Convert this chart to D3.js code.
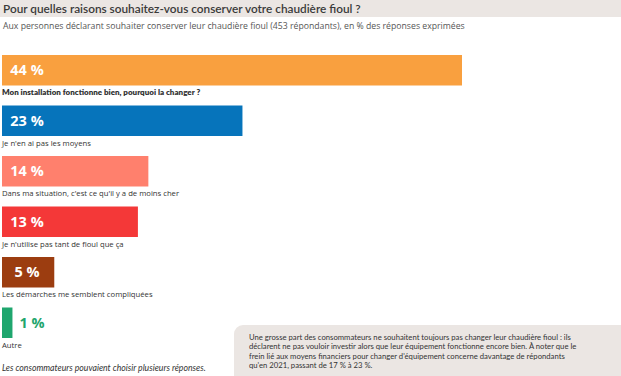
<!DOCTYPE html>
<html>
<head>
<meta charset="utf-8">
<script src="https://cdn.jsdelivr.net/npm/d3@7"></script>
<style>
  body { margin: 0; background: #fff; }
  svg { display: block; font-family: Lato, "Open Sans", sans-serif; }
</style>
</head>
<body>
<div id="chart"></div>
<script>
// data
const categories = [
  "Mon installation fonctionne bien, pourquoi la changer ?",
  "Je n'en ai pas les moyens",
  "Dans ma situation, c'est ce qu'il y a de moins cher",
  "Je n'utilise pas tant de fioul que ça",
  "Les démarches me semblent compliquées",
  "Autre"
];
const values = [44, 23, 14, 13, 5, 1];
const colors = ["#f9a03f", "#0674bb", "#ff806d", "#f43838", "#9c3d10", "#1fa66e"];

const title = "Pour quelles raisons souhaitez-vous conserver votre chaudière fioul ?";
const subtitle = "Aux personnes déclarant souhaiter conserver leur chaudière fioul (453 répondants), en % des réponses exprimées";
const footnote = "Les consommateurs pouvaient choisir plusieurs réponses.";
const noteLines = [
  "Une grosse part des consommateurs ne souhaitent toujours pas changer leur chaudière fioul : ils",
  "déclarent ne pas vouloir investir alors que leur équipement fonctionne encore bien. À noter que le",
  "frein lié aux moyens financiers pour changer d'équipement concerne davantage de répondants",
  "qu'en 2021, passant de 17 % à 23 %."
];

const width = 621, height = 376;

const svg = d3.select("#chart")
  .append("svg")
    .attr("width", width)
    .attr("height", height);

// header band
svg.append("rect")
  .attr("x", 0).attr("y", 0)
  .attr("width", width).attr("height", 17)
  .attr("fill", "#ebe6e3");

svg.append("text")
  .attr("x", 3).attr("y", 12.5)
  .attr("font-size", 11.8)
  .attr("font-weight", 600)
  .attr("fill", "#3a3a3a")
  .text(title);

svg.append("text")
  .attr("x", 3).attr("y", 29)
  .attr("font-family", "'Open Sans', sans-serif")
  .attr("font-size", 8.7)
  .attr("fill", "#555")
  .text(subtitle);

const xScale = d3.scaleLinear().domain([0, 44]).range([2, 462]);
const yScale = d3.scaleBand()
  .domain(categories)
  .range([55, 338])
  .paddingInner(20 / 50.5)
  .paddingOuter(0);

const rows = svg.selectAll("g.row")
  .data(categories.map((c, i) => ({cat: c, value: values[i], color: colors[i], i: i})))
  .enter()
  .append("g")
  .attr("class", "row");

rows.append("rect")
  .attr("x", xScale(0))
  .attr("y", d => yScale(d.cat))
  .attr("width", d => xScale(d.value) - xScale(0))
  .attr("height", yScale.bandwidth())
  .attr("fill", d => d.color);

// value labels: centred near the bar start, or after the bar when it is too small
rows.append("text")
  .attr("x", d => d.value > 3 ? 27 : xScale(d.value) + 7)
  .attr("y", d => yScale(d.cat) + yScale.bandwidth() / 2)
  .attr("dy", "0.36em")
  .attr("text-anchor", d => d.value > 3 ? "middle" : "start")
  .attr("font-family", "'Open Sans', sans-serif")
  .attr("font-size", 14.5)
  .attr("font-weight", 700)
  .attr("fill", d => d.value > 3 ? "#fff" : d.color)
  .text(d => d.value + " %");

// first category is in bold, the others regular
rows.append("text")
  .attr("x", 2)
  .attr("y", d => yScale(d.cat) + yScale.bandwidth() + 9.5)
  .attr("font-family", d => d.i === 0 ? "Lato, sans-serif" : "'Open Sans', sans-serif")
  .attr("font-size", d => d.i === 0 ? 8 : 7.7)
  .attr("font-weight", d => d.i === 0 ? 800 : 400)
  .attr("fill", "#333")
  .text(d => d.cat);

svg.append("text")
  .attr("x", 2).attr("y", 371)
  .attr("font-size", 8.7)
  .attr("font-style", "italic")
  .attr("fill", "#333")
  .text(footnote);

// note box
svg.append("rect")
  .attr("x", 234).attr("y", 325)
  .attr("width", 400).attr("height", 60)
  .attr("rx", 9)
  .attr("fill", "#ebe6e3");

svg.append("g")
  .selectAll("text")
  .data(noteLines)
  .enter()
  .append("text")
  .attr("x", 249)
  .attr("y", (d, i) => 340 + i * 9.3)
  .attr("font-size", 7.7)
  .attr("fill", "#333")
  .text(d => d);
</script>
</body>
</html>
